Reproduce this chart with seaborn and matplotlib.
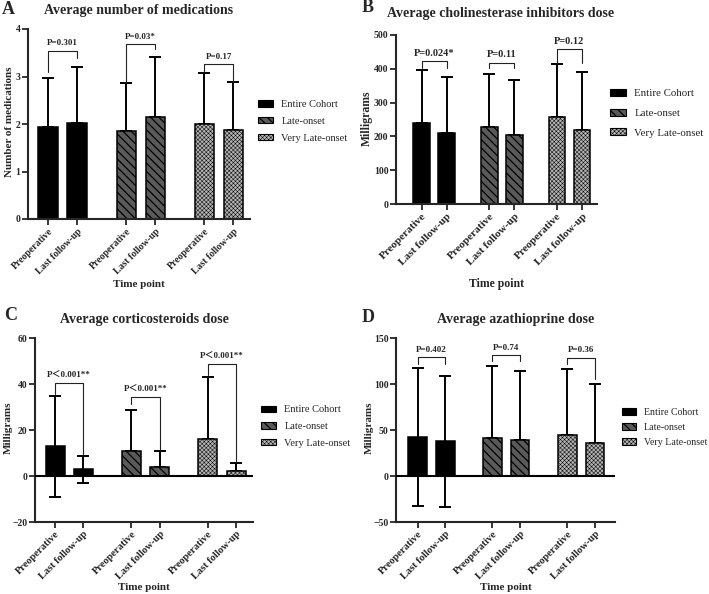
import numpy as np
import pandas as pd
import matplotlib
matplotlib.use("Agg")
import matplotlib.pyplot as plt
import seaborn as sns
from matplotlib.patches import Patch

# ---------------- data ----------------
groups = ["Entire Cohort", "Late-onset", "Very Late-onset"]
timepoints = ["Preoperative", "Last follow-up"]

# order: EC pre, EC last, LO pre, LO last, VLO pre, VLO last
A_mean = [1.93, 2.02, 1.86, 2.14, 2.01, 1.87]
A_sd = [1.03, 1.18, 1.01, 1.28, 1.07, 1.01]
A_p = ["P=0.301", "P=0.03*", "P=0.17"]
A_bracket = [3.54, 3.68, 3.26]
A_leg_left = [3.09, 2.88, 3.10]
A_leg_right = [3.40, 3.58, 2.89]

B_mean = [240, 211, 229, 205, 257, 219]
B_sd = [156, 165, 156, 161, 158, 173]
B_p = ["P=0.024*", "P=0.11", "P=0.12"]
B_bracket = [423, 418, 458]
B_leg_left = [401, 401, 416]
B_leg_right = [401, 401, 416]

C_mean = [12.9, 2.9, 10.9, 3.8, 15.9, 2.2]
C_sd = [22.1, 5.9, 17.9, 6.9, 27.0, 3.5]
C_p = ["P＜0.001**", "P＜0.001**", "P＜0.001**"]
C_bracket = [40.4, 34.2, 48.7]
C_leg_left = [35.5, 31.3, 44.0]
C_leg_right = [9.4, 11.3, 6.5]

D_mean = [42.4, 37.7, 41.3, 39.1, 44.9, 36.2]
D_sd = [74.8, 71.0, 77.9, 75.0, 71.4, 63.8]
D_p = ["P=0.402", "P=0.74", "P=0.36"]
D_bracket = [129, 131.5, 128.6]
D_leg_left = [121.7, 125, 121.7]
D_leg_right = [121.7, 125, 105]

# ---------------- style ----------------
sns.set_style("ticks")
plt.rcParams["font.family"] = ["Liberation Serif", "Noto Sans CJK SC", "DejaVu Sans"]
plt.rcParams["hatch.linewidth"] = 0.7

fills = {"Entire Cohort": "#000000", "Late-onset": "#5a5a5a", "Very Late-onset": "#b4b4b4"}
hatches = {"Entire Cohort": None, "Late-onset": "\\\\\\\\", "Very Late-onset": "xxxxxxxx"}
hatch_lw = {"Entire Cohort": 0.7, "Late-onset": 0.9, "Very Late-onset": 0.35}

fig = plt.figure(figsize=(7.09, 5.94), dpi=100)
W, H = 709.0, 594.0


def frac_rect(left, top, right, bottom):
    return [left / W, 1 - bottom / H, (right - left) / W, (bottom - top) / H]


def style_patch(p, g):
    if hatches[g]:
        p.set_hatch(hatches[g])
        if hasattr(p, "set_hatch_linewidth"):
            p.set_hatch_linewidth(hatch_lw[g])
    p.set_edgecolor("black")


def panel(rect, letter, letter_xy, title, title_pad, title_x, ylabel, ylab_x, xlab_y,
          mean, sd, two_sided, ylim, yticks, zero_line, ptexts, br_y, br_l, br_r,
          xlim, fs_tick, fs_ytick, fs_ylab, fs_p, leg_xy, fs_leg, leg_sp):
    ax = fig.add_axes(frac_rect(*rect))
    pos = [g * 2.7 + t for g in range(3) for t in range(2)]
    df = pd.DataFrame({
        "pos": pos,
        "mean": mean,
        "group": [g for g in groups for _ in timepoints],
        "time": timepoints * 3,
    })
    sns.barplot(data=df, x="pos", y="mean", hue="group", hue_order=groups,
                native_scale=True, dodge=False, width=0.67,
                palette=[fills[g] for g in groups], saturation=1,
                edgecolor="black", linewidth=1.1, errorbar=None,
                legend=False, ax=ax, zorder=2)
    for cont, g in zip(ax.containers, groups):
        for bar in cont:
            style_patch(bar, g)
    # error bars
    lo = [s if (i // 2) in two_sided else 0 for i, s in enumerate(sd)]
    ax.errorbar(pos, mean, yerr=[lo, sd], fmt="none", ecolor="black",
                elinewidth=1.4, capsize=4.5, capthick=1.4, zorder=1)
    # brackets
    for k in range(3):
        x0, x1 = pos[2 * k], pos[2 * k + 1]
        ax.plot([x0, x0, x1, x1], [br_l[k], br_y[k], br_y[k], br_r[k]],
                color="#222222", lw=0.8, zorder=3)
        ax.annotate(ptexts[k], xy=((x0 + x1) / 2, br_y[k]), xytext=(0, 2.5),
                    textcoords="offset points", ha="center", va="bottom",
                    fontsize=fs_p, fontweight="bold")
    if zero_line:
        ax.axhline(0, color="black", lw=1.5, zorder=3)
    ax.set_xlim(*xlim)
    ax.set_ylim(*ylim)
    ax.set_yticks(yticks)
    ax.set_xticks(pos)
    ax.set_xticklabels(timepoints * 3, rotation=45, ha="right",
                       rotation_mode="anchor", fontsize=fs_tick, fontweight="bold")
    for lab in ax.get_yticklabels():
        lab.set_fontsize(fs_ytick)
        lab.set_fontweight("bold")
    ax.tick_params(axis="both", length=4, width=1.3, pad=1.5)
    for s in ["top", "right"]:
        ax.spines[s].set_visible(False)
    for s in ["left", "bottom"]:
        ax.spines[s].set_linewidth(1.5)
    ax.set_ylabel(ylabel, fontsize=fs_ylab, fontweight="bold")
    ax.yaxis.set_label_coords(ylab_x, 0.51)
    ax.set_xlabel("Time point", fontsize=fs_ylab, fontweight="bold")
    ax.xaxis.set_label_coords(0.5, xlab_y)
    ax.set_title(title, fontsize=10, fontweight="bold", pad=title_pad, x=title_x)
    fig.text(letter_xy[0] / W, 1 - letter_xy[1] / H, letter, fontsize=13,
             fontweight="bold", ha="left", va="center")
    handles = []
    for g in groups:
        p = Patch(facecolor=fills[g], edgecolor="black", hatch=hatches[g],
                  linewidth=0.8, label=g)
        handles.append(p)
    leg = ax.legend(handles=handles, loc="upper left",
                    bbox_to_anchor=(leg_xy[0] / W, 1 - leg_xy[1] / H),
                    bbox_transform=fig.transFigure, frameon=False, borderpad=0,
                    borderaxespad=0, fontsize=fs_leg, handlelength=1.45,
                    handleheight=0.6, handletextpad=0.8, labelspacing=leg_sp)
    for p, g in zip(leg.get_patches(), groups):
        if hatches[g] and hasattr(p, "set_hatch_linewidth"):
            p.set_hatch_linewidth(hatch_lw[g])
    return ax


panel((28, 29, 250, 219), "A", (2, 9), "Average number of medications", 10.5, 0.5,
      "Number of medications", -0.065, -0.32,
      A_mean, A_sd, [], (0, 4), [0, 1, 2, 3, 4], False,
      A_p, A_bracket, A_leg_left, A_leg_right,
      (-0.69, 6.97), 7, 7, 8, 6.5, (258, 100), 7.5, 0.75)

panel((396, 35, 597, 204), "B", (362, 8), "Average cholinesterase inhibitors dose", 13, 0.52,
      "Milligrams", -0.115, -0.44,
      B_mean, B_sd, [], (0, 500), [0, 100, 200, 300, 400, 500], False,
      B_p, B_bracket, B_leg_left, B_leg_right,
      (-1.03, 7.0), 8, 7, 8.5, 7.5, (610, 89), 7.8, 0.96)

panel((35, 338, 253, 522), "C", (4, 316), "Average corticosteroids dose", 11, 0.5,
      "Milligrams", -0.10, -0.33,
      C_mean, C_sd, [0], (-20, 60), [-20, 0, 20, 40, 60], True,
      C_p, C_bracket, C_leg_left, C_leg_right,
      (-0.71, 7.0), 7.5, 7, 8, 6.5, (261, 405.5), 7.5, 0.72)

panel((396, 338, 615, 522), "D", (362, 317), "Average azathioprine dose", 11, 0.548,
      "Milligrams", -0.10, -0.33,
      D_mean, D_sd, [0], (-50, 150), [-50, 0, 50, 100, 150], True,
      D_p, D_bracket, D_leg_left, D_leg_right,
      (-0.78, 7.12), 7.5, 7, 8, 6.5, (622, 408), 7.1, 0.61)

fig.savefig("out.png", dpi=100)
